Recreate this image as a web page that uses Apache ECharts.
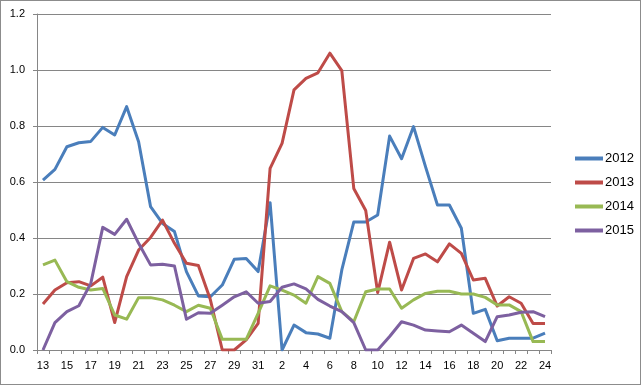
<!DOCTYPE html>
<html><head><meta charset="utf-8">
<script src="https://cdn.jsdelivr.net/npm/echarts@6/dist/echarts.min.js"></script>
<style>html,body{margin:0;padding:0;background:#fff}
#c{width:641px;height:385px;box-sizing:border-box;border:1px solid #8c8c8c;}</style>
</head><body><div id="c"></div>
<script>
var categories = ['13','14','15','16','17','18','19','20','21','22','23','24','25','26','27','28','29','30','31',
 '1','2','3','4','5','6','7','8','9','10','11','12','13','14','15','16','17','18','19','20','21','22','23','24'];
var s2012 = [0.607,0.645,0.726,0.74,0.745,0.795,0.768,0.869,0.744,0.512,0.452,0.423,0.28,0.193,0.19,0.232,0.324,0.327,0.28,
 0.526,0.0,0.089,0.062,0.057,0.042,0.286,0.457,0.457,0.482,0.764,0.683,0.798,0.655,0.518,0.518,0.435,0.131,0.145,0.033,0.042,0.042,0.042,0.06];
var s2013 = [0.164,0.214,0.24,0.244,0.229,0.26,0.098,0.262,0.357,0.402,0.464,0.381,0.31,0.302,0.18,0.0,0.0,0.036,0.095,
 0.649,0.738,0.929,0.97,0.99,1.06,0.998,0.577,0.498,0.205,0.385,0.214,0.327,0.343,0.315,0.379,0.345,0.25,0.256,0.157,0.19,0.167,0.095,0.095];
var s2014 = [0.304,0.321,0.244,0.224,0.214,0.22,0.125,0.11,0.187,0.187,0.179,0.16,0.137,0.16,0.149,0.038,0.038,0.038,0.131,
 0.229,0.214,0.196,0.167,0.262,0.238,0.137,0.101,0.208,0.218,0.218,0.149,0.179,0.202,0.21,0.21,0.2,0.2,0.188,0.161,0.161,0.137,0.03,0.03];
var s2015 = [0.0,0.098,0.137,0.158,0.238,0.438,0.413,0.467,0.381,0.304,0.306,0.3,0.11,0.133,0.131,0.16,0.19,0.208,0.167,
 0.173,0.224,0.236,0.218,0.181,0.157,0.137,0.098,0.0,0.0,0.048,0.101,0.089,0.071,0.068,0.065,0.089,0.06,0.03,0.119,0.125,0.135,0.137,0.119];
var seriesNames = ['2012','2013','2014','2015'];
var colors = ['#4a7ebb','#be4b48','#98b954','#7d60a0'];
var allData = [s2012, s2013, s2014, s2015];

var chart = echarts.init(document.getElementById('c'), null, {renderer:'canvas'});
var font = 'Liberation Sans, Arial, sans-serif';
chart.setOption({
  animation:false,
  color: colors,
  grid:{left:36, right:89, top:13, bottom:34, containLabel:false},
  legend:{
    orient:'vertical', left:569, top:146, itemWidth:28, itemHeight:4, itemGap:11,
    icon:'rect',
    textStyle:{fontFamily:font, fontSize:13, color:'#000', padding:[0,0,0,-3]},
    data: seriesNames
  },
  xAxis:{
    type:'category', data:categories, boundaryGap:true,
    axisLine:{lineStyle:{color:'#868686', width:1}},
    axisTick:{show:true, interval:0, length:4, lineStyle:{color:'#868686'}},
    axisLabel:{interval:1, margin:10, fontFamily:font, fontSize:11, color:'#000'},
    splitLine:{show:false}
  },
  yAxis:{
    type:'value', min:0, max:1.2, interval:0.2,
    axisLine:{show:true, lineStyle:{color:'#868686'}},
    axisTick:{show:true, length:4, lineStyle:{color:'#868686'}},
    axisLabel:{margin:12, fontFamily:font, fontSize:11, color:'#000', formatter:function(v){return v.toFixed(1);}},
    splitLine:{show:true, lineStyle:{color:'#868686', width:1}}
  },
  series: seriesNames.map(function(n,i){
    return {name:n, type:'line', data:allData[i], symbol:'none', smooth:false,
      lineStyle:{width:3, color:colors[i], join:'round'}, itemStyle:{color:colors[i]}};
  })
});
</script></body></html>
